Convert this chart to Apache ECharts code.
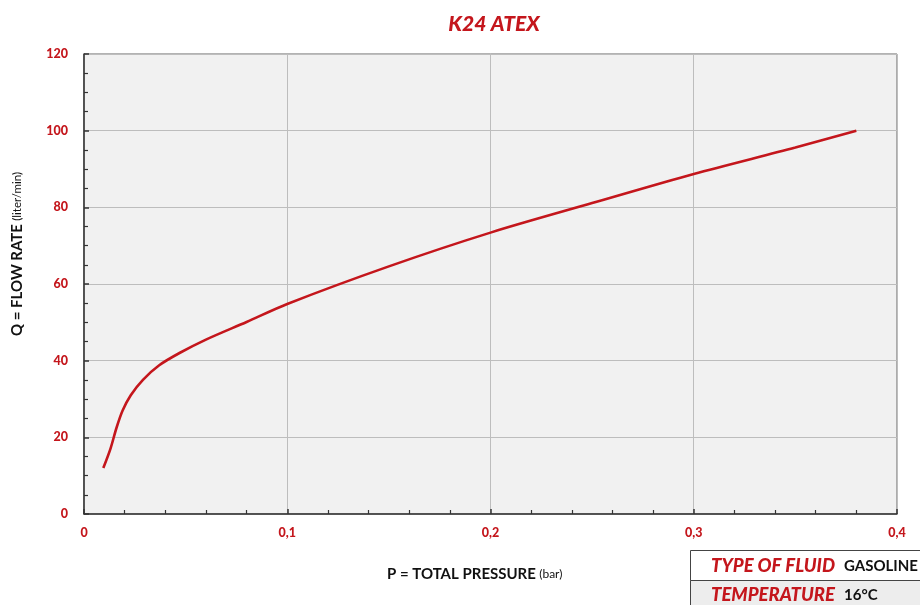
<!DOCTYPE html>
<html><head><meta charset="utf-8">
<script src="https://cdn.jsdelivr.net/npm/echarts@6/dist/echarts.min.js"></script>
<style>html,body{margin:0;padding:0;background:#fff}#c{width:920px;height:605px}</style>
</head><body><div id="c"></div>
<script>
const titleText = 'K24 ATEX';
const pressure = [0.0095,0.013,0.016,0.019,0.023,0.029,0.037,0.047,0.06,0.08,0.1,0.15,0.2,0.25,0.3,0.35,0.38];
const flowRate = [12,17,22.5,27,31,35,38.8,42,45.5,50.1,54.8,64.6,73.4,81.1,88.7,95.6,100];
const xTicks = [0,0.1,0.2,0.3,0.4];
const yTicks = [0,20,40,60,80,100,120];
const tableRows = [['TYPE OF FLUID','GASOLINE'],['TEMPERATURE','16°C']];

const RED = '#c4161c';
const chart = echarts.init(document.getElementById('c'));
const data = pressure.map((p,i)=>[p,flowRate[i]]);
const labelFont = {color:RED,fontFamily:'Lato',fontWeight:'900',fontSize:12.5};

chart.setOption({
  animation:false,
  title:{text:titleText,left:489,textAlign:'center',top:9,
    textStyle:{color:RED,fontFamily:'Lato',fontWeight:'900',fontStyle:'italic',fontSize:21}},
  grid:{left:84,right:23,top:54,bottom:91,show:true,backgroundColor:'#f1f1f1',borderColor:'#666',borderWidth:1},
  xAxis:{type:'value',min:xTicks[0],max:xTicks[xTicks.length-1],interval:0.1,
    axisLine:{show:true,onZero:false,lineStyle:{color:'#333',width:1.5}},
    axisTick:{show:true,inside:true,length:5,lineStyle:{color:'#333',width:1.5}},
    minorTick:{show:true,splitNumber:5,length:4,lineStyle:{color:'#333',width:1.2}},
    splitLine:{show:true,lineStyle:{color:'#bdbdbd',width:1}},
    axisLabel:Object.assign({margin:12,formatter:v=>v===0?'0':String(v).replace('.',',')},labelFont)},
  yAxis:{type:'value',min:yTicks[0],max:yTicks[yTicks.length-1],interval:20,
    axisLine:{show:true,onZero:false,lineStyle:{color:'#333',width:1.5}},
    axisTick:{show:true,inside:true,length:5,lineStyle:{color:'#333',width:1.5}},
    minorTick:{show:true,splitNumber:4,length:4,lineStyle:{color:'#333',width:1.2}},
    splitLine:{show:true,lineStyle:{color:'#bdbdbd',width:1}},
    axisLabel:Object.assign({margin:16},labelFont)},
  series:[{type:'line',data:data,smooth:0.3,showSymbol:false,
    lineStyle:{color:RED,width:2.6}}],
  graphic:[
    {type:'text',left:387,top:567,style:{
      text:'{a|P = TOTAL PRESSURE} {b|(bar)}',
      rich:{a:{fontFamily:'Lato',fontWeight:'bold',fontSize:15,fill:'#111'},b:{fontFamily:'Lato',fontSize:12,fill:'#111'}}}},
    {type:'text',x:10,y:336,rotation:Math.PI/2,style:{
      text:'{a|Q = FLOW RATE} {b|(liter/min)}',
      rich:{a:{fontFamily:'Lato',fontWeight:'bold',fontSize:15,fill:'#111'},b:{fontFamily:'Lato',fontSize:11.5,fill:'#111'}}}},
    {type:'rect',shape:{x:690.5,y:550.5,width:240,height:30},style:{fill:'#fff',stroke:'#444',lineWidth:1}},
    {type:'rect',shape:{x:690.5,y:580.5,width:240,height:30},style:{fill:'#ededed',stroke:'#444',lineWidth:1}},
    {type:'text',left:711,top:557,style:{text:tableRows[0][0],fill:RED,fontFamily:'Lato',fontWeight:'900',fontStyle:'italic',fontSize:18.5}},
    {type:'text',left:844,top:559,style:{text:tableRows[0][1],fill:'#111',fontFamily:'Lato',fontWeight:'bold',fontSize:15}},
    {type:'text',left:711,top:586,style:{text:tableRows[1][0],fill:RED,fontFamily:'Lato',fontWeight:'900',fontStyle:'italic',fontSize:18.5}},
    {type:'text',left:844,top:588,style:{text:tableRows[1][1],fill:'#111',fontFamily:'Lato',fontWeight:'bold',fontSize:15}}
  ]
});
</script></body></html>
